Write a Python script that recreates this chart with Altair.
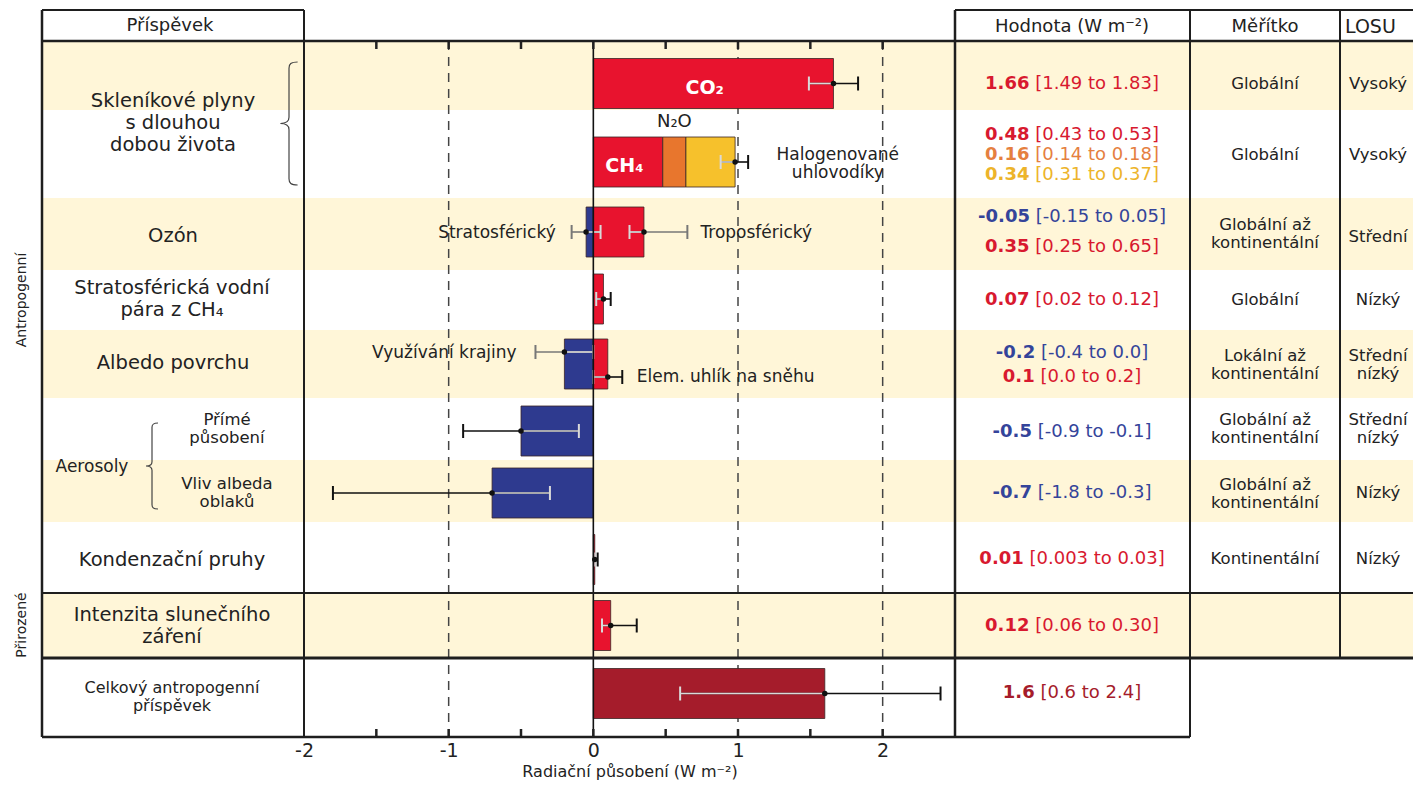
import altair as alt
import pandas as pd

FONT = "DejaVu Sans"

# ---------------------------------------------------------------- data
# bar components (value column uses the same order)
BAR_NAMES = ["CO₂", "CH₄", "N₂O", "Halogenované uhlovodíky", "Stratosférický ozón",
             "Troposférický ozón", "Stratosférická vodní pára", "Využívání krajiny",
             "Elem. uhlík na sněhu", "Přímé působení", "Vliv albeda oblaků",
             "Kondenzační pruhy", "Intenzita slunečního záření", "Celkový antropogenní příspěvek"]
BAR_ROW = [0, 1, 1, 1, 2, 2, 3, 4, 4, 5, 6, 7, 8, 9]
BAR_START = [0, 0, 0.48, 0.64, -0.05, 0, 0, -0.2, 0, -0.5, -0.7, 0, 0, 0]
BAR_END = [1.66, 0.48, 0.64, 0.98, 0, 0.35, 0.07, 0, 0.1, 0, 0, 0.01, 0.12, 1.6]
BAR_KIND = ["pos", "pos", "n2o", "halo", "neg", "pos", "pos", "neg", "pos", "neg", "neg",
            "pos", "pos", "total"]

# error bars
ERR_ROW = [0, 1, 2, 2, 3, 4, 4, 5, 6, 7, 8, 9]
ERR_MID = [1.66, 0.98, -0.05, 0.35, 0.07, -0.2, 0.1, -0.5, -0.7, 0.01, 0.12, 1.6]
ERR_LO = [1.49, 0.88, -0.15, 0.25, 0.02, -0.4, 0.0, -0.9, -1.8, 0.003, 0.06, 0.6]
ERR_HI = [1.83, 1.07, 0.05, 0.65, 0.12, 0.0, 0.2, -0.1, -0.3, 0.03, 0.30, 2.4]

# value column texts
VAL_BOLD = ["1.66", "0.48", "0.16", "0.34", "-0.05", "0.35", "0.07", "-0.2", "0.1",
            "-0.5", "-0.7", "0.01", "0.12", "1.6"]
VAL_RANGE = ["[1.49 to 1.83]", "[0.43 to 0.53]", "[0.14 to 0.18]", "[0.31 to 0.37]",
             "[-0.15 to 0.05]", "[0.25 to 0.65]", "[0.02 to 0.12]", "[-0.4 to 0.0]",
             "[0.0 to 0.2]", "[-0.9 to -0.1]", "[-1.8 to -0.3]", "[0.003 to 0.03]",
             "[0.06 to 0.30]", "[0.6 to 2.4]"]

LEFT_LABELS = ["Skleníkové plyny\ns dlouhou\ndobou života", "Ozón",
               "Stratosférická vodní\npára z CH₄", "Albedo povrchu", "Kondenzační pruhy",
               "Intenzita slunečního\nzáření"]
SMALL_LABELS = ["Přímé\npůsobení", "Vliv albeda\noblaků", "Celkový antropogenní\npříspěvek"]
GROUP_LABELS = ["Antropogenní", "Přirozené"]
HEADERS = ["Příspěvek", "Hodnota (W m⁻²)", "Měřítko"]
LOSU_HEADER = "LOSU"
SCALE_TEXT = ["Globální", "Globální", "Globální až\nkontinentální", "Globální",
              "Lokální až\nkontinentální", "Globální až\nkontinentální",
              "Globální až\nkontinentální", "Kontinentální"]
LOSU_TEXT = ["Vysoký", "Vysoký", "Střední", "Nízký", "Střední\nnízký", "Střední\nnízký",
             "Nízký", "Nízký"]
ANNOT_TEXT = ["CO₂", "CH₄", "N₂O", "Halogenované\nuhlovodíky", "Stratosférický",
              "Troposférický", "Využívání krajiny", "Elem. uhlík na sněhu"]
AXIS_LABELS = [-2, -1, 0, 1, 2]
MINOR_TICKS = [-1.5, -1, -0.5, 0, 0.5, 1, 1.5, 2]
DASHED = [-1, 1, 2]

# ---------------------------------------------------------------- styles / layout
BAR_COLORS = {"pos": "#E8132E", "neg": "#2E3A8F", "n2o": "#E8762D", "halo": "#F6C12C",
              "total": "#A51C2B"}
TEXT_COLORS = {"pos": "#D8192F", "neg": "#34449A", "n2o": "#E5803F", "halo": "#EDB42A",
               "total": "#A51C2B"}
YELLOW = "#FFF6D8"
INK = "#222222"

PX0, PY0 = 304, 41          # page position of plot origin
W, H = 651, 696
def X(a): return a - PX0
def Y(a): return a - PY0

ROW_HEIGHTS = [69, 88, 72, 60, 68, 62, 62, 71, 65, 79]
edges = [0]
for h in ROW_HEIGHTS:
    edges.append(edges[-1] + h)
BAR_SHIFT = [8, 8, -2, -1, 0, 2, 2, 2, 0, -4]
bar_center = [(edges[i] + edges[i + 1]) / 2 + BAR_SHIFT[i] for i in range(10)]
BAR_HALF = 25
ERR_DY = [0, 0, 0, 0, 0, -12, 13, 0, 0, 0, 0, 0]
ERR_OUTER = ["#111", "#111", "#777", "#777", "#111", "#777", "#111", "#111", "#111",
             "#111", "#111", "#111"]
CAP = 7

XS = alt.Scale(domain=[-2, 2.5], nice=False, zero=False)

# ---------------------------------------------------------------- tables
bars = pd.DataFrame({"name": BAR_NAMES, "row": BAR_ROW, "start": BAR_START,
                     "end": BAR_END, "kind": BAR_KIND})
bars["fill"] = bars["kind"].map(BAR_COLORS)
bars["y1"] = [bar_center[r] - BAR_HALF for r in bars["row"]]
bars["y2"] = [bar_center[r] + BAR_HALF for r in bars["row"]]

row_min = bars.groupby("row")["start"].min()
row_max = bars.groupby("row")["end"].max()

err = pd.DataFrame({"row": ERR_ROW, "mid": ERR_MID, "lo": ERR_LO, "hi": ERR_HI,
                    "outer": ERR_OUTER})
err["py"] = [bar_center[r] + d for r, d in zip(ERR_ROW, ERR_DY)]
err["in_lo"] = [max(l, row_min[r]) for l, r in zip(err["lo"], err["row"])]
err["in_hi"] = [min(h, row_max[r]) for h, r in zip(err["hi"], err["row"])]
inner = err[err["in_lo"] < err["in_hi"]]

caps = []
for _, e in err.iterrows():
    for v in (e["lo"], e["hi"]):
        inside = row_min[e["row"]] <= v <= row_max[e["row"]]
        caps.append({"x": v, "y1": e["py"] - CAP, "y2": e["py"] + CAP,
                     "col": "#d9d9d9" if inside and v != e["mid"] else e["outer"]})
caps = pd.DataFrame(caps)

# value column composite texts (bold value + normal range), centred at x=1072
RW = {".": .318, " ": .318, "[": .390, "]": .390, "-": .361, "t": .392, "o": .612}
BW = {".": .380, "-": .415}
def wid(s, table, digit):
    return sum(table.get(c, digit) for c in s)
VFS = 18
VAL_Y = [84, 135, 155, 175, 217, 247, 300, 353, 377, 432, 493, 559, 626, 693]
vb, vr = [], []
for b, r, k, yy in zip(VAL_BOLD, VAL_RANGE, BAR_KIND, VAL_Y):
    wb = wid(b, BW, .696) * VFS
    wr = wid(r, RW, .636) * VFS
    gap = .318 * VFS
    left = 1072 - (wb + gap + wr) / 2
    col = TEXT_COLORS[k]
    vb.append({"text": b, "px": X(left), "py": Y(yy), "fs": VFS, "col": col})
    vr.append({"text": r, "px": X(left + wb + gap), "py": Y(yy), "fs": VFS, "col": col})
vb, vr = pd.DataFrame(vb), pd.DataFrame(vr)

def block_y(text, yc, lh):
    # vega anchors the first line; shift so the block is centred on yc
    return yc - (text.count("\n")) * lh / 2

def tdf(texts, xs, ys, fs, lh=20, col=INK):
    return pd.DataFrame({"text": texts, "px": [X(v) for v in xs],
                         "py": [Y(block_y(t, v, lh)) for t, v in zip(texts, ys)],
                         "fs": fs, "col": col})

LH_MAIN, LH_SMALL, LH_SCALE = 22, 18, 18
left_df = tdf(LEFT_LABELS, [173, 173, 172, 173, 172, 172], [123, 236, 299, 363, 560, 626],
              [19.5] * 6, LH_MAIN)
small_df = tdf(SMALL_LABELS, [227, 227, 172], [429, 493, 697], [16.5, 16.5, 16], LH_SMALL)
aer_df = tdf(["Aerosoly"], [92], [467], [17])
group_df = tdf(GROUP_LABELS, [22, 22], [300, 625], [14, 14])
head_df = tdf(HEADERS, [170, 1072, 1265], [26, 27, 27], [18, 18, 18])
losu_head = tdf([LOSU_HEADER], [1345], [27], [19])
scale_df = tdf(SCALE_TEXT, [1265] * 8, [84, 155, 234, 300, 365, 429, 494, 559], [16.5] * 8,
               LH_SCALE)
losu_df = tdf(LOSU_TEXT, [1378] * 8, [84, 155, 237, 300, 365, 429, 493, 559], [16.5] * 8,
              LH_SCALE)

ANN_X = [0.77, 0.215, 0.56, 1.69, -0.26, 0.74, -0.53, 0.30]
ANN_Y = [88, 166, 122, 164, 233, 233, 353, 377]
LH_ANN = 18
ann = pd.DataFrame({"text": ANNOT_TEXT, "x": ANN_X,
                    "py": [Y(block_y(t, v, LH_ANN)) for t, v in zip(ANNOT_TEXT, ANN_Y)],
                    "fs": [19, 19, 18, 17, 17, 17, 17, 17],
                    "col": ["white", "white", INK, INK, INK, INK, INK, INK],
                    "grp": ["wb", "wb", "c", "c", "r", "l", "r", "l"]})

# frame lines (page coordinates)
LINES = [(42, 10, 42, 737, 2.5), (42, 10, 304, 10, 2), (955, 10, 1413, 10, 2),
         (42, 41, 1413, 41, 2.5), (304, 10, 304, 737, 2), (955, 10, 955, 737, 2.5),
         (1190, 10, 1190, 737, 2), (1340, 10, 1340, 658, 2), (42, 593, 1413, 593, 2),
         (42, 658, 1413, 658, 3), (42, 737, 1190, 737, 2.5)]
lines = pd.DataFrame([{"x1": X(a), "y1": Y(b), "x2": X(c), "y2": Y(d), "w": w}
                      for a, b, c, d, w in LINES])

YELLOW_ROWS = [0, 2, 4, 6, 8]
bg = pd.DataFrame({"x1": X(42), "x2": X(1413), "y1": [edges[r] for r in YELLOW_ROWS],
                   "y2": [edges[r + 1] for r in YELLOW_ROWS]})

BRACE = ("M 0.14 -1 C 0.03 -1 0 -0.97 0 -0.9 L 0 -0.1 C 0 -0.03 -0.05 0 -0.14 0 "
         "C -0.05 0 0 0.03 0 0.1 L 0 0.9 C 0 0.97 0.03 1 0.14 1")
braces = pd.DataFrame({"px": [X(289), X(152)], "py": [Y(123.5), Y(466)],
                       "sz": [123 ** 2, 86 ** 2]})

# ---------------------------------------------------------------- layers
PXE = alt.X("px:Q", scale=None, axis=None)
PYE = alt.Y("py:Q", scale=None, axis=None)
def tlayer(df, **kw):
    return alt.Chart(df).mark_text(font=FONT, lineBreak="\n", **kw).encode(
        x=PXE, y=PYE, text="text:N",
        size=alt.Size("fs:Q", scale=None, legend=None),
        color=alt.Color("col:N", scale=None, legend=None))

def alayer(df, **kw):
    return alt.Chart(df).mark_text(font=FONT, lineBreak="\n", **kw).encode(
        x=alt.X("x:Q", scale=XS, axis=None), y=PYE, text="text:N",
        size=alt.Size("fs:Q", scale=None, legend=None),
        color=alt.Color("col:N", scale=None, legend=None))

axis = alt.Axis(values=AXIS_LABELS, labelExpr="'' + datum.value", domain=False, ticks=False,
                tickSize=0, grid=False, labelPadding=4, labelFontSize=19, labelFont=FONT,
                labelColor=INK, labelFlush=False, labelOverlap=False,
                title="Radiační působení (W m⁻²)", titleFont=FONT, titleFontSize=16,
                titleFontWeight="normal", titleColor=INK, titleY=34,
                titleBaseline="middle")

bg_layer = alt.Chart(bg).mark_rect(color=YELLOW).encode(
    x=alt.X("x1:Q", scale=None, axis=None), x2="x2:Q",
    y=alt.Y("y1:Q", scale=None, axis=None), y2="y2:Q")

dash_layer = alt.Chart(pd.DataFrame({"x": DASHED})).mark_rule(
    strokeDash=[9, 7], color="#444", strokeWidth=1.5).encode(x=alt.X("x:Q", scale=XS, axis=None))

bar_layer = alt.Chart(bars).mark_rect(stroke="#3a2525", strokeWidth=0.8).encode(
    x=alt.X("start:Q", scale=XS, axis=axis), x2="end:Q",
    y=alt.Y("y1:Q", scale=None, axis=None), y2="y2:Q",
    color=alt.Color("fill:N", scale=None, legend=None))

err_layer = alt.Chart(err).mark_rule(strokeWidth=1.6).encode(
    x=alt.X("lo:Q", scale=XS, axis=None), x2="hi:Q", y=alt.Y("py:Q", scale=None, axis=None),
    color=alt.Color("outer:N", scale=None, legend=None))
inner_layer = alt.Chart(inner).mark_rule(strokeWidth=1.6, color="#d9d9d9").encode(
    x=alt.X("in_lo:Q", scale=XS, axis=None), x2="in_hi:Q", y=alt.Y("py:Q", scale=None, axis=None))
cap_layer = alt.Chart(caps).mark_rule(strokeWidth=2).encode(
    x=alt.X("x:Q", scale=XS, axis=None), y=alt.Y("y1:Q", scale=None, axis=None), y2="y2:Q",
    color=alt.Color("col:N", scale=None, legend=None))
dot_layer = alt.Chart(err).mark_circle(size=30, color="#111", opacity=1).encode(
    x=alt.X("mid:Q", scale=XS, axis=None), y=alt.Y("py:Q", scale=None, axis=None))

zero_layer = alt.Chart(pd.DataFrame({"x": [0]})).mark_rule(color="#111", strokeWidth=1.6).encode(
    x=alt.X("x:Q", scale=XS, axis=None))
tick_df = pd.DataFrame({"x": MINOR_TICKS})
top_ticks = alt.Chart(tick_df).mark_rule(color=INK, strokeWidth=2.5).encode(
    x=alt.X("x:Q", scale=XS, axis=None), y=alt.value(0), y2=alt.value(8))
bot_ticks = alt.Chart(tick_df).mark_rule(color=INK, strokeWidth=2.5).encode(
    x=alt.X("x:Q", scale=XS, axis=None), y=alt.value(H - 8), y2=alt.value(H))

line_layer = alt.Chart(lines).mark_rule(color="#1e1e1e").encode(
    x=alt.X("x1:Q", scale=None, axis=None), x2="x2:Q",
    y=alt.Y("y1:Q", scale=None, axis=None), y2="y2:Q",
    strokeWidth=alt.StrokeWidth("w:Q", scale=None, legend=None))

brace_layer = alt.Chart(braces).mark_point(shape=BRACE, filled=False, stroke="#444",
                                           strokeWidth=1.2, opacity=1).encode(
    x=PXE, y=PYE, size=alt.Size("sz:Q", scale=None, legend=None))

layers = [
    bg_layer, dash_layer, bar_layer, err_layer, inner_layer, cap_layer, dot_layer,
    zero_layer, top_ticks, bot_ticks, line_layer, brace_layer,
    tlayer(left_df, align="center", baseline="middle", lineHeight=LH_MAIN),
    tlayer(small_df, align="center", baseline="middle", lineHeight=LH_SMALL),
    tlayer(aer_df, align="center", baseline="middle"),
    tlayer(group_df, align="center", baseline="middle", angle=270),
    tlayer(head_df, align="center", baseline="middle"),
    tlayer(losu_head, align="left", baseline="middle"),
    tlayer(scale_df, align="center", baseline="middle", lineHeight=LH_SCALE),
    tlayer(losu_df, align="center", baseline="middle", lineHeight=LH_SCALE),
    tlayer(vb, align="left", baseline="middle", fontWeight="bold"),
    tlayer(vr, align="left", baseline="middle"),
    alayer(ann[ann.grp == "wb"], align="center", baseline="middle", fontWeight="bold"),
    alayer(ann[ann.grp == "c"], align="center", baseline="middle", lineHeight=LH_ANN),
    alayer(ann[ann.grp == "l"], align="left", baseline="middle"),
    alayer(ann[ann.grp == "r"], align="right", baseline="middle"),
]

chart = alt.layer(*layers).resolve_axis(x="independent", y="independent").properties(
    width=W, height=H,
    autosize=alt.AutoSizeParams(type="none"),
    padding={"left": PX0 - 8, "top": PY0 - 8, "right": 1405 - (PX0 - 8) - W,
             "bottom": 777 - (PY0 - 8) - H},
).configure_view(stroke=None)

chart.save("out.html", embed_options={"renderer": "svg", "actions": False})
